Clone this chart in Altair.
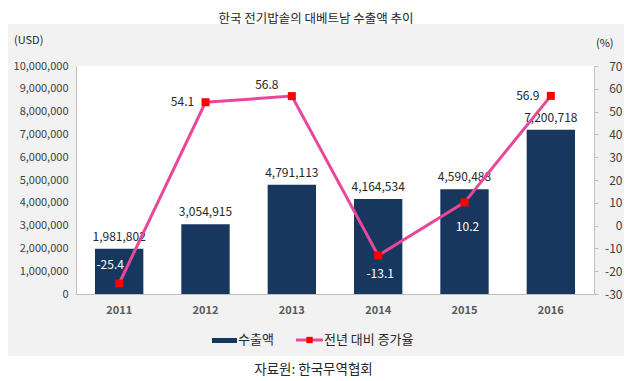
import altair as alt
import pandas as pd

years = ["2011", "2012", "2013", "2014", "2015", "2016"]
exports = [1981802, 3054915, 4791113, 4164534, 4590488, 7200718]
growth = [-25.4, 54.1, 56.8, -13.1, 10.2, 56.9]

title_text = "한국 전기밥솥의 대베트남 수출액 추이"
source_text = "자료원: 한국무역협회"
left_unit = "(USD)"
right_unit = "(%)"
legend_bar = "수출액"
legend_line = "전년 대비 증가율"

left_ticks = [i * 1000000 for i in range(11)]
right_ticks = [-30, -20, -10, 0, 10, 20, 30, 40, 50, 60, 70]

NAVY = "#17375e"
PINK = "#e8489a"
RED = "#ff0000"
GRAY_BG = "#f2f2f2"
AXIS_GRAY = "#bfbfbf"
TXT = "#404040"
FONT = "Noto Sans CJK KR"

W, H = 518, 228

df = pd.DataFrame({"year": years, "export": exports, "growth": growth})
one = pd.DataFrame({"k": [0]})

x_enc = alt.X(
    "year:N",
    sort=years,
    title=None,
    scale=alt.Scale(paddingInner=0.44, paddingOuter=0.22),
    axis=alt.Axis(
        labelAngle=0, ticks=False, tickSize=0, domainColor=AXIS_GRAY, domainWidth=1,
        labelFont=FONT, labelFontSize=11, labelFontWeight="bold", labelColor="#595959",
        labelPadding=10, zindex=1,
    ),
)

y_left = alt.Y(
    "export:Q",
    title=None,
    scale=alt.Scale(domain=[0, 10000000], nice=False, zero=True),
    axis=alt.Axis(
        values=left_ticks, labelExpr="format(datum.value, ',')", grid=False,
        ticks=False, tickSize=0, domainColor=AXIS_GRAY, labelFont=FONT,
        labelFontSize=11, labelColor=TXT, labelPadding=8, zindex=1,
    ),
)

y_right = alt.Y(
    "growth:Q",
    title=None,
    scale=alt.Scale(domain=[-30, 70], nice=False, zero=False),
    axis=alt.Axis(
        orient="right", values=right_ticks, labelExpr="toString(datum.value)",
        grid=False, ticks=True, tickSize=4, tickColor=AXIS_GRAY, domainColor=AXIS_GRAY,
        labelFont=FONT, labelFontSize=12, labelColor=TXT, labelAlign="right",
        labelPadding=24, zindex=1,
    ),
)

base = alt.Chart(df).transform_calculate(
    elabel="format(datum.export, ',')", glabel="toString(datum.growth)"
)

bars = base.mark_bar(color=NAVY).encode(x=x_enc, y=y_left)
bar_text = base.mark_text(dy=-12, fontSize=12, font=FONT, color="#262626").encode(
    x=x_enc, y=y_left, text="elabel:N"
)
left_layer = alt.layer(bars, bar_text)

line = base.mark_line(color=PINK, strokeWidth=3).encode(x=x_enc, y=y_right)
pts = base.mark_point(shape="square", filled=True, color=RED, size=64, opacity=1).encode(
    x=x_enc, y=y_right
)


def glabel(yrs, dx, dy, color):
    return (
        base.transform_filter(alt.FieldOneOfPredicate(field="year", oneOf=yrs))
        .mark_text(dx=dx, dy=dy, fontSize=12, font=FONT, color=color)
        .encode(x=x_enc, y=y_right, text="glabel:N")
    )


lab_a = glabel(["2011"], -9, -19, "white")
lab_b = glabel(["2012", "2016"], -23, 0, "#262626")
lab_c = glabel(["2013"], -25, -11, "#262626")
lab_d = glabel(["2014"], 2, 19, "white")
lab_e = glabel(["2015"], 3, 25, "white")
right_layer = alt.layer(line, pts, lab_a, lab_b, lab_c, lab_d, lab_e)

panel = alt.Chart(one).mark_rect(color=GRAY_BG).encode(
    x=alt.value(-72), x2=alt.value(551), y=alt.value(-42), y2=alt.value(290)
)
white = alt.Chart(one).mark_rect(color="white").encode(
    x=alt.value(0), x2=alt.value(W), y=alt.value(0), y2=alt.value(H)
)

title = alt.Chart(pd.DataFrame({"t": [title_text]})).mark_text(
    font=FONT, fontSize=12.5, color="#262626", align="center", baseline="middle"
).encode(x=alt.value(240), y=alt.value(-47), text="t:N")

usd = alt.Chart(pd.DataFrame({"t": [left_unit]})).mark_text(
    font=FONT, fontSize=11, color="#262626", align="left", baseline="middle"
).encode(x=alt.value(-62), y=alt.value(-25), text="t:N")

pct = alt.Chart(pd.DataFrame({"t": [right_unit]})).mark_text(
    font=FONT, fontSize=11, color="#262626", align="left", baseline="middle"
).encode(x=alt.value(520), y=alt.value(-22), text="t:N")

leg_bar = alt.Chart(one).mark_rect(color=NAVY).encode(
    x=alt.value(136), x2=alt.value(161), y=alt.value(272), y2=alt.value(277)
)
leg_bar_t = alt.Chart(pd.DataFrame({"t": [legend_bar]})).mark_text(
    font=FONT, fontSize=13, color="#262626", align="left", baseline="middle"
).encode(x=alt.value(162), y=alt.value(274), text="t:N")
leg_line = alt.Chart(one).mark_rule(color=PINK, strokeWidth=3).encode(
    x=alt.value(220), x2=alt.value(247), y=alt.value(274)
)
leg_pt = alt.Chart(one).mark_point(shape="square", filled=True, color=RED, size=40, opacity=1).encode(
    x=alt.value(233.5), y=alt.value(274)
)
leg_line_t = alt.Chart(pd.DataFrame({"t": [legend_line]})).mark_text(
    font=FONT, fontSize=13, color="#262626", align="left", baseline="middle"
).encode(x=alt.value(248), y=alt.value(274), text="t:N")

source = alt.Chart(pd.DataFrame({"t": [source_text]})).mark_text(
    font=FONT, fontSize=13.5, color="#262626", align="center", baseline="middle"
).encode(x=alt.value(237.5), y=alt.value(304), text="t:N")

chart = (
    alt.layer(
        panel, white, left_layer, right_layer,
        title, usd, pct, leg_bar, leg_bar_t, leg_line, leg_pt, leg_line_t, source,
    )
    .resolve_scale(y="independent")
    .properties(
        width=W,
        height=H,
        background="white",
        autosize=alt.AutoSizeParams(type="none"),
        padding={"left": 68, "top": 58, "right": 30, "bottom": 83},
    )
    .configure_view(stroke=None)
)

chart.save("out.html", embed_options={"renderer": "svg", "actions": False})
